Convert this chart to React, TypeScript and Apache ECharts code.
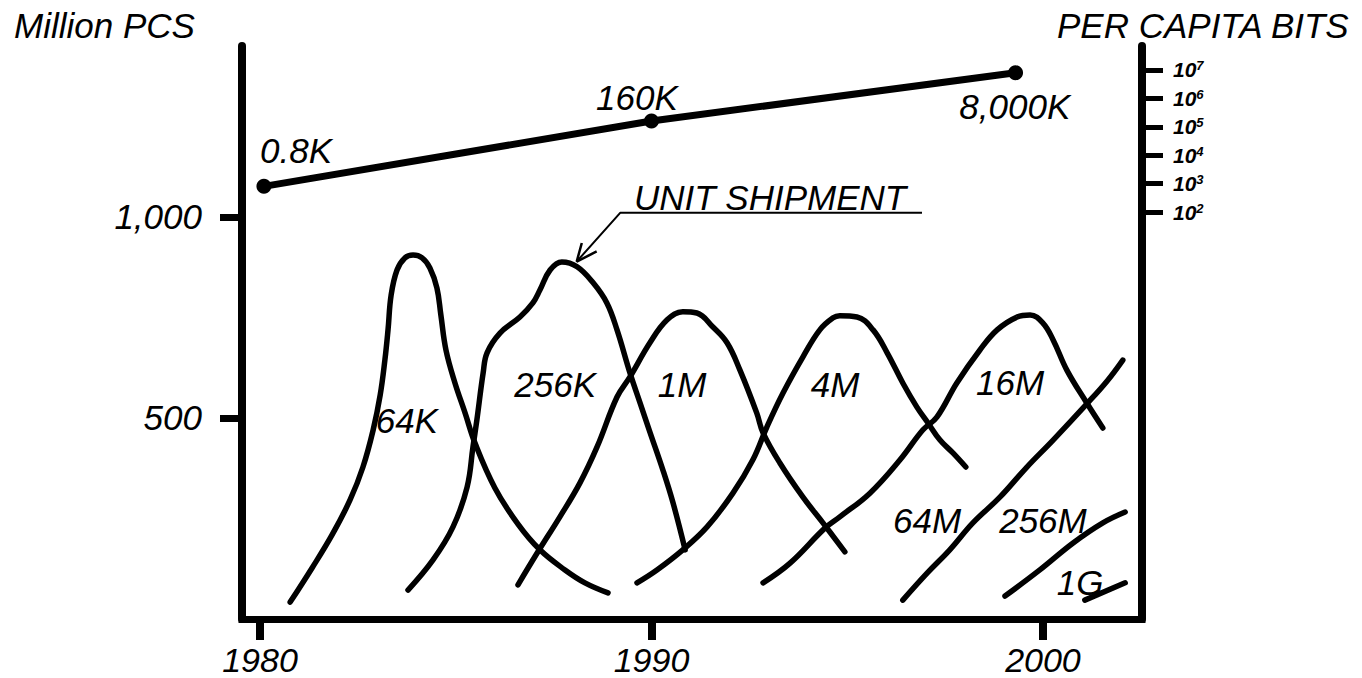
import React, { useEffect, useRef } from "react";
import * as echarts from "echarts";

const FONT = '"Liberation Sans", Arial, Helvetica, sans-serif';

// Axis ticks
const yearTicks = [1980, 1990, 2000];
const pcTicks = [500, 1000];
const bitTicks = [1e2, 1e3, 1e4, 1e5, 1e6, 1e7];

// Unit shipment curves (year, million PCS)
const d64K = [[1980.77, 42], [1981.33, 127], [1981.84, 209], [1982.3, 296], [1982.63, 378], [1982.89, 470], [1983.07, 557], [1983.19, 644], [1983.27, 719], [1983.35, 806], [1983.5, 868], [1983.7, 898], [1983.91, 905], [1984.14, 898], [1984.34, 873], [1984.52, 823], [1984.62, 756], [1984.75, 669], [1984.98, 587], [1985.24, 512], [1985.49, 438], [1986.0, 326], [1986.59, 236], [1987.15, 172], [1987.79, 122], [1988.3, 90], [1988.89, 65]];
const d256K = [[1983.78, 72], [1984.42, 147], [1984.93, 229], [1985.29, 328], [1985.44, 428], [1985.54, 495], [1985.7, 612], [1985.8, 662], [1986.13, 711], [1986.64, 751], [1986.97, 786], [1987.15, 818], [1987.41, 868], [1987.71, 888], [1988.1, 876], [1988.51, 836], [1988.86, 786], [1989.12, 719], [1989.45, 612], [1989.71, 537], [1989.96, 465], [1990.29, 371], [1990.55, 289], [1990.86, 172]];
const d1M = [[1986.59, 85], [1987.08, 164], [1987.66, 254], [1988.17, 338], [1988.61, 428], [1989.12, 552], [1989.45, 602], [1989.96, 687], [1990.4, 744], [1990.8, 764], [1991.16, 761], [1991.57, 726], [1991.93, 687], [1992.26, 619], [1992.69, 512], [1992.85, 463], [1993.28, 388], [1993.87, 303], [1994.38, 239], [1994.94, 167]];
const d4M = [[1989.63, 90], [1990.14, 122], [1990.8, 172], [1991.42, 229], [1992.08, 313], [1992.59, 396], [1992.95, 478], [1993.36, 562], [1993.87, 652], [1994.3, 719], [1994.64, 749], [1994.81, 754], [1995.25, 751], [1995.66, 719], [1996.02, 662], [1996.42, 587], [1996.78, 527], [1997.06, 488], [1997.37, 445], [1997.7, 413], [1998.03, 378]];
const d16M = [[1992.85, 90], [1993.54, 139], [1994.43, 226], [1994.81, 254], [1995.58, 313], [1996.35, 396], [1996.93, 470], [1997.29, 502], [1997.8, 587], [1998.39, 669], [1998.83, 719], [1999.34, 751], [1999.67, 756], [2000.0, 736], [2000.26, 694], [2000.61, 619], [2001.12, 537], [2001.53, 475]];
const d64M = [[1996.42, 47], [1997.04, 114], [1997.62, 172], [1998.21, 239], [1998.9, 303], [1999.59, 378], [2000.26, 445], [2001.12, 535], [2001.64, 592], [2002.04, 644]];
const d256M = [[1999.03, 57], [1999.92, 122], [2000.77, 189], [2001.53, 239], [2002.1, 266]];
const d1G = [[2001.07, 47], [2002.1, 90]];

const curveNames = ["64K", "256K", "1M", "4M", "16M", "64M", "256M", "1G"];
const curveData = [d64K, d256K, d1M, d4M, d16M, d64M, d256M, d1G];
const curveLabelPos = [[1983.75, 493], [1987.54, 582], [1990.78, 582], [1994.69, 582], [1999.16, 587], [1997.04, 244], [2000.0, 244], [2000.95, 92]];

// Per capita bits
const bitsYears = [1980.1, 1990, 1999.3];
const bitsValues = [800, 160000, 8000000];
const bitsLabels = ["0.8K", "160K", "8,000K"];
const bitsLabelPos = [[1980.92, 1164], [1989.63, 1296], [1999.28, 1274]];

// Unit shipment annotation
const shipLabel = "UNIT SHIPMENT";
const shipLabelPos = [1993.03, 1047];
const shipLeader = [[1996.91, 1010], [1989.2, 1010], [1988.09, 889]];
const shipArrowHead = [[1988.22, 935], [1988.09, 889], [1988.6, 914]];

const textBase = { fontFamily: FONT, fontStyle: "italic", fontSize: 35, color: "#000", opacity: 1 };

function buildOption() {
  const curveSeries = curveData.map((d, i) => ({
    type: "line",
    name: curveNames[i],
    data: d,
    smooth: 0.4,
    symbol: "none",
    silent: true,
    lineStyle: { color: "#000", width: 5.5, cap: "round" },
    z: 3,
  }));

  const labelData = [
    ...curveNames.map((n, i) => ({ name: n, value: curveLabelPos[i] })),
    ...bitsLabels.map((n, i) => ({ name: n, value: bitsLabelPos[i] })),
    { name: shipLabel, value: shipLabelPos },
  ];

  return {
    animation: false,
    backgroundColor: "#fff",
    grid: { left: 242, right: 220, top: 46, bottom: 59, containLabel: false, outerBoundsMode: "none" },
    xAxis: {
      type: "value",
      min: 1979.54,
      max: 2002.53,
      splitLine: { show: false },
      axisLine: { show: true, onZero: false, lineStyle: { color: "#000", width: 7, cap: "square" } },
      axisTick: { show: true, customValues: yearTicks, length: 21, lineStyle: { color: "#000", width: 8 } },
      axisLabel: {
        customValues: yearTicks,
        formatter: (v: number) => String(v),
        margin: 24,
        ...textBase,
        fontSize: 34,
      },
    },
    yAxis: [
      {
        type: "value",
        min: 0,
        max: 1425,
        position: "left",
        splitLine: { show: false },
        axisLine: { show: true, onZero: false, lineStyle: { color: "#000", width: 8 } },
        axisTick: { show: true, customValues: pcTicks, length: 22, lineStyle: { color: "#000", width: 7 } },
        axisLabel: {
          customValues: pcTicks,
          formatter: (v: number) => v.toLocaleString("en-US"),
          margin: 40,
          ...textBase,
        },
      },
      {
        type: "log",
        logBase: 10,
        min: Math.pow(10, -12.33),
        max: Math.pow(10, 7.845),
        position: "right",
        splitLine: { show: false },
        axisLine: { show: true, onZero: false, lineStyle: { color: "#000", width: 8 } },
        axisTick: { show: true, customValues: bitTicks, length: 21, lineStyle: { color: "#000", width: 5 } },
        axisLabel: {
          customValues: bitTicks,
          margin: 31,
          formatter: (v: number) => `{b|10}{s|${Math.round(Math.log10(v))}}`,
          rich: {
            b: { fontFamily: FONT, fontStyle: "italic", fontWeight: "bold", fontSize: 21, color: "#000" },
            s: { fontFamily: FONT, fontStyle: "italic", fontWeight: "bold", fontSize: 13, color: "#000", verticalAlign: "top" },
          },
        },
      },
    ],
    graphic: [
      { type: "text", left: 14, top: 8, style: { text: "Million PCS", fontFamily: FONT, fontStyle: "italic", fontSize: 35, fill: "#000" } },
      { type: "text", right: 12, top: 8, style: { text: "PER CAPITA BITS", fontFamily: FONT, fontStyle: "italic", fontSize: 35, fill: "#000" } },
    ],
    series: [
      ...curveSeries,
      {
        type: "line",
        name: "bits",
        yAxisIndex: 1,
        data: bitsYears.map((y, i) => [y, bitsValues[i]]),
        symbol: "circle",
        symbolSize: 15,
        silent: true,
        itemStyle: { color: "#000" },
        lineStyle: { color: "#000", width: 7 },
        z: 4,
      },
      {
        type: "line",
        name: "leader",
        data: shipLeader,
        symbol: "none",
        silent: true,
        lineStyle: { color: "#000", width: 2 },
      },
      {
        type: "line",
        name: "arrow",
        data: shipArrowHead,
        symbol: "none",
        silent: true,
        lineStyle: { color: "#000", width: 2.5 },
      },
      {
        type: "scatter",
        name: "labels",
        data: labelData,
        symbolSize: 1,
        silent: true,
        itemStyle: { color: "rgba(0,0,0,0)", opacity: 1 },
        label: { show: true, position: "inside", formatter: "{b}", ...textBase, textBorderWidth: 0 },
        z: 5,
      },
    ],
  };
}

export default function App() {
  const ref = useRef<HTMLDivElement>(null);
  useEffect(() => {
    const chart = echarts.init(ref.current as HTMLDivElement, null, { renderer: "svg" });
    chart.setOption(buildOption() as any);
    return () => chart.dispose();
  }, []);
  return (
    <div
      ref={ref}
      style={{ position: "fixed", left: 0, top: 0, width: 1362, height: 678, background: "#fff" }}
    />
  );
}
